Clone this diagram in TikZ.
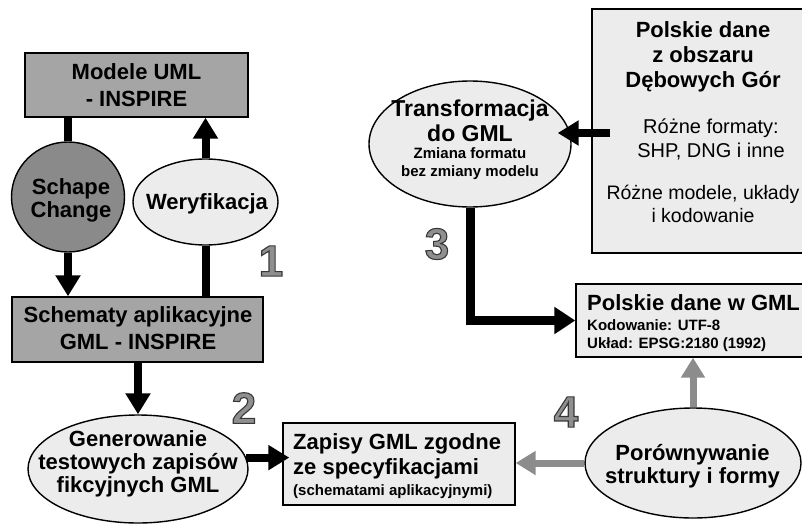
\documentclass[tikz,border=0pt]{standalone}
\usepackage{fontspec}
\setmainfont{Liberation Sans}
\newfontface\digitface[FakeBold=2.5]{Liberation Sans Bold}
\usetikzlibrary{arrows.meta,shapes.geometric}

\definecolor{midgray}{HTML}{A5A5A5}
\definecolor{darkfill}{HTML}{8A8A8A}
\definecolor{lightfill}{HTML}{ECECEC}
\definecolor{arrowgray}{HTML}{8C8C8C}
\definecolor{numface}{HTML}{8E8E8E}

% digit filled in mid gray, its emboldening stroke in dark gray
\newcommand{\outlineddigit}[1]{%
  \special{pdf:bcolor [0.56] [0.22]}#1\special{pdf:ecolor}}

\tikzset{
  box/.style={draw=black, line width=1.4pt, rectangle, inner sep=0pt},
  ell/.style={draw=black, line width=1.4pt, ellipse, inner sep=0pt},
  bigtxt/.style={font=\bfseries\fontsize{22}{#1}\selectfont, align=center, inner sep=0pt},
  bigtxt/.default=25,
  smalltxt/.style={font=\bfseries\fontsize{15}{#1}\selectfont, inner sep=0pt},
  smalltxt/.default=18,
  regtxt/.style={font=\fontsize{20}{#1}\selectfont, align=center, inner sep=0pt},
  regtxt/.default=24,
  num/.style={font=\digitface\fontsize{44}{44}\selectfont, inner sep=0pt, text=numface},
  link/.style={draw=black, line width=8pt},
  arr/.style={draw=black, line width=8pt, -{Triangle[length=21pt,width=24pt]}},
  arrL/.style={draw=black, line width=9pt, -{Triangle[length=21pt,width=26pt]}},
  garr/.style={draw=arrowgray, line width=7pt, -{Triangle[length=20pt,width=23pt]}},
}

\begin{document}
\begin{tikzpicture}[x=1pt, y=-1pt, line join=miter]
  \useasboundingbox[fill=white] (0,0) rectangle (802,524);
  \clip (0,0) rectangle (802,524);

  % --- shapes ---
  \node[box, fill=midgray, minimum width=223pt, minimum height=64pt] (mod) at (136.5,85) {};
  \node[ell, fill=darkfill, minimum width=113pt, minimum height=110pt] (schape) at (68,197) {};
  \node[ell, fill=lightfill, minimum width=145pt, minimum height=86pt] (wer) at (205.5,202) {};
  \node[box, fill=midgray, minimum width=251pt, minimum height=65pt] (schem) at (137.5,329.5) {};
  \node[ell, fill=lightfill, minimum width=220pt, minimum height=108pt] (gen) at (138,469) {};
  \node[box, fill=lightfill, minimum width=232pt, minimum height=82pt] (zap) at (399,464) {};
  \node[ell, fill=lightfill, minimum width=216pt, minimum height=110pt] (por) at (693,463) {};
  \node[box, fill=lightfill, minimum width=254pt, minimum height=73pt] (pgml) at (703,320.5) {};
  \node[ell, fill=lightfill, minimum width=202pt, minimum height=126pt] (tr) at (470,144) {};
  \node[box, fill=lightfill, minimum width=226pt, minimum height=244pt] (poz) at (705,131) {};

  % --- texts ---
  \node[bigtxt=27] (modT) at (136.5,85.5) {Modele UML\\- INSPIRE};
  \node[bigtxt=23] (schapeT) at (71,200.8) {Schape\\Change};
  \node[bigtxt] (werT) at (207,204.3) {Weryfikacja};
  \node[bigtxt=27] (schemT) at (138,328.5) {Schematy aplikacyjne\\GML - INSPIRE};
  \node[bigtxt=23] (genT) at (138,464.3) {Generowanie\\testowych zapisów\\fikcyjnych GML};
  \node[bigtxt, align=left, anchor=west] (zapT) at (293,456.8) {Zapisy GML zgodne\\ze specyfikacjami};
  \node[smalltxt, anchor=base west] (zapS) at (293,495) {(schematami aplikacyjnymi)};
  \node[bigtxt=23] (porT) at (692.5,465.8) {Porównywanie\\struktury i formy};
  \node[bigtxt, anchor=base west] (pgmlT) at (587,310) {Polskie dane w GML};
  \node[smalltxt, align=left, anchor=west] (pgmlS) at (587,336) {Kodowanie: UTF-8\\Układ: EPSG:2180 (1992)};
  \node[font=\bfseries\fontsize{23}{25}\selectfont, align=center, inner sep=0pt] (trT) at (470,121) {Transformacja\\do GML};
  \node[smalltxt, align=center] (trS) at (470,163.5) {Zmiana formatu\\bez zmiany modelu};
  \node[bigtxt] (pozT) at (703,57.3) {Polskie dane\\z obszaru\\Dębowych Gór};
  \node[regtxt] (pozF) at (711,139.3) {Różne formaty:\\SHP, DNG i inne};
  \node[regtxt=23, font=\fontsize{19.5}{23}\selectfont] (pozM) at (703,204.2) {Różne modele, układy\\i kodowanie};

  % --- step numbers ---
  \node[num] (n1) at (271,261) {\outlineddigit{1}};
  \node[num] (n2) at (244,408) {\outlineddigit{2}};
  \node[num] (n3) at (437,244) {\outlineddigit{3}};
  \node[num] (n4) at (566,412) {\outlineddigit{4}};

  % --- connectors ---
  \draw[link] (schape.north) -- (schape.north |- mod.south);
  \draw[arr] (wer.north) -- (wer.north |- mod.south);
  \draw[arr] (schape.south) -- (schape.south |- schem.north);
  \draw[link] (wer.south) -- (wer.south |- schem.north);
  \draw[arr] (schem.south -| gen.north) -- (gen.north);
  \draw[arr, shorten >=-7pt] (gen.6) -- (gen.6 -| zap.west);
  \draw[garr] (por.west) -- (por.west -| zap.east);
  \draw[garr] (por.north) -- (por.north |- pgml.south);
  \draw[arrL] (tr.south) |- (pgml.west);
  \coordinate (pozIn) at (610,133);
  \draw[arr, shorten >=-14pt] (pozIn) -- (pozIn -| tr.east);
\end{tikzpicture}
\end{document}
